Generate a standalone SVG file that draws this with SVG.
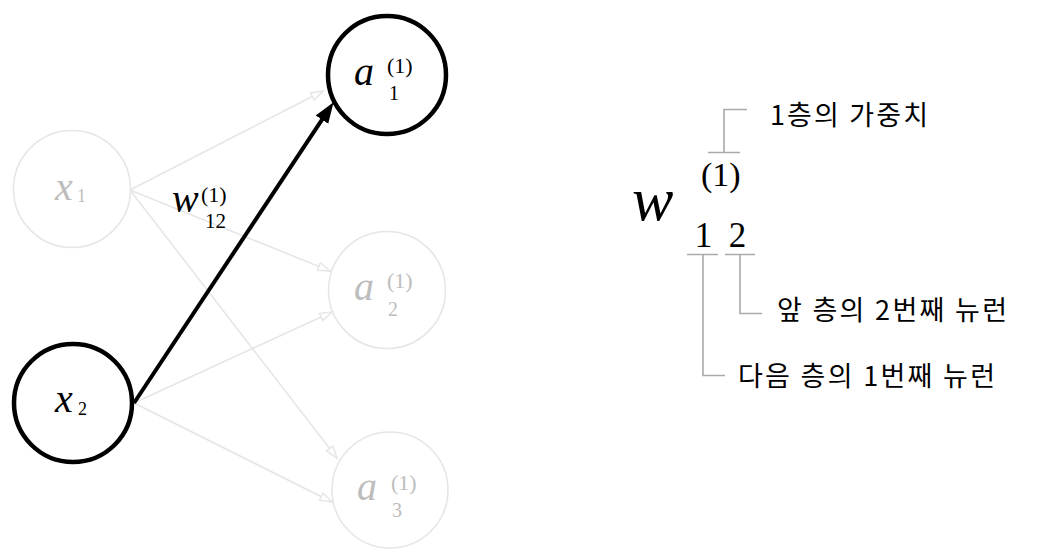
<svg xmlns="http://www.w3.org/2000/svg" width="1047" height="557" viewBox="0 0 1047 557">
<style>
.bg{fill:#ffffff}
.on{fill:none;stroke:#000;stroke-width:4.5}
.off{fill:none;stroke:#e6e6e6;stroke-width:1.6}
.math{font-family:"Liberation Serif","Times New Roman",serif}
.it{font-style:italic}
.dark{fill:#000}
.gray{fill:#bdbdbd}
.edge{stroke:#e6e6e6;stroke-width:1.6;fill:none}
.main{stroke:#000;stroke-width:4;fill:none}
.br{stroke:#aaaaaa;stroke-width:1.6;fill:none}
.kr{font-family:"Noto Sans CJK KR","Noto Sans",sans-serif;font-size:27px;font-weight:400;fill:#000}
</style>
<defs>
<marker id="open" markerUnits="userSpaceOnUse" markerWidth="16" markerHeight="12" refX="13" refY="5" orient="auto" viewBox="0 0 16 12">
<path d="M1,1 L13,5 L1,9 Z" fill="#fff" stroke="#e6e6e6" stroke-width="1.5"/>
</marker>
<marker id="solid" markerUnits="userSpaceOnUse" markerWidth="24" markerHeight="16" refX="10" refY="8" orient="auto" viewBox="0 0 24 16">
<path d="M0,0.5 L21,8 L0,15.5 Z" fill="#000"/>
</marker>
</defs>
<rect class="bg" x="0" y="0" width="1047" height="557"/>

<g id="connectors">
<line class="edge" x1="130" y1="190" x2="323" y2="91" marker-end="url(#open)"/>
<line class="edge" x1="130" y1="190" x2="330" y2="271" marker-end="url(#open)"/>
<line class="edge" x1="130" y1="190" x2="337" y2="458" marker-end="url(#open)"/>
<line class="edge" x1="134" y1="403" x2="332" y2="312" marker-end="url(#open)"/>
<line class="edge" x1="134" y1="403" x2="332" y2="502" marker-end="url(#open)"/>
<line class="main" x1="134" y1="403" x2="327.5" y2="111.3" marker-end="url(#solid)"/>
</g>

<g id="x1">
<circle class="off" cx="72" cy="189" r="58.5"/>
<text class="math it gray" x="55" y="200" font-size="40">x</text>
<text class="math gray" x="77" y="202" font-size="18">1</text>
</g>

<g id="x2">
<circle class="on" cx="73" cy="403" r="59"/>
<text class="math it dark" x="55" y="412" font-size="40">x</text>
<text class="math dark" x="78" y="415" font-size="18">2</text>
</g>

<g id="a1">
<circle class="on" cx="387" cy="75" r="59"/>
<text class="math it dark" x="354" y="85" font-size="40">a</text>
<text class="math dark" x="387" y="73" font-size="22">(1)</text>
<text class="math dark" x="389" y="100" font-size="20">1</text>
</g>

<g id="a2">
<circle class="off" cx="387" cy="290" r="58.5"/>
<text class="math it gray" x="354" y="300" font-size="40">a</text>
<text class="math gray" x="387" y="288" font-size="22">(1)</text>
<text class="math gray" x="388" y="316" font-size="20">2</text>
</g>

<g id="a3">
<circle class="off" cx="390" cy="490" r="58"/>
<text class="math it gray" x="357" y="500" font-size="40">a</text>
<text class="math gray" x="391" y="490" font-size="22">(1)</text>
<text class="math gray" x="392" y="517" font-size="20">3</text>
</g>

<g id="w12">
<text class="math it dark" x="172" y="212" font-size="40">w</text>
<text class="math dark" x="201" y="202" font-size="22">(1)</text>
<text class="math dark" x="205" y="228" font-size="21">12</text>
</g>

<g id="legend">
<text class="math it dark" x="632" y="220" font-size="62">w</text>
<text class="math dark" x="701" y="186" font-size="34">(1)</text>
<text class="math dark" x="703.5" y="247" font-size="35" text-anchor="middle">1</text>
<text class="math dark" x="737.5" y="247" font-size="35" text-anchor="middle">2</text>
<path class="br" d="M708,152.5 H740 M724,152.5 V109.5 H747"/>
<path class="br" d="M687,254.5 H718 M725,254.5 H755"/>
<path class="br" d="M740,254.5 V313.5 H762"/>
<path class="br" d="M703,254.5 V375.5 H725"/>
<text class="kr" x="770" y="125" textLength="158" lengthAdjust="spacing">1층의 가중치</text>
<text class="kr" x="777" y="320" textLength="230" lengthAdjust="spacing">앞 층의 2번째 뉴런</text>
<text class="kr" x="738" y="386" textLength="257" lengthAdjust="spacing">다음 층의 1번째 뉴런</text>
</g>
</svg>
